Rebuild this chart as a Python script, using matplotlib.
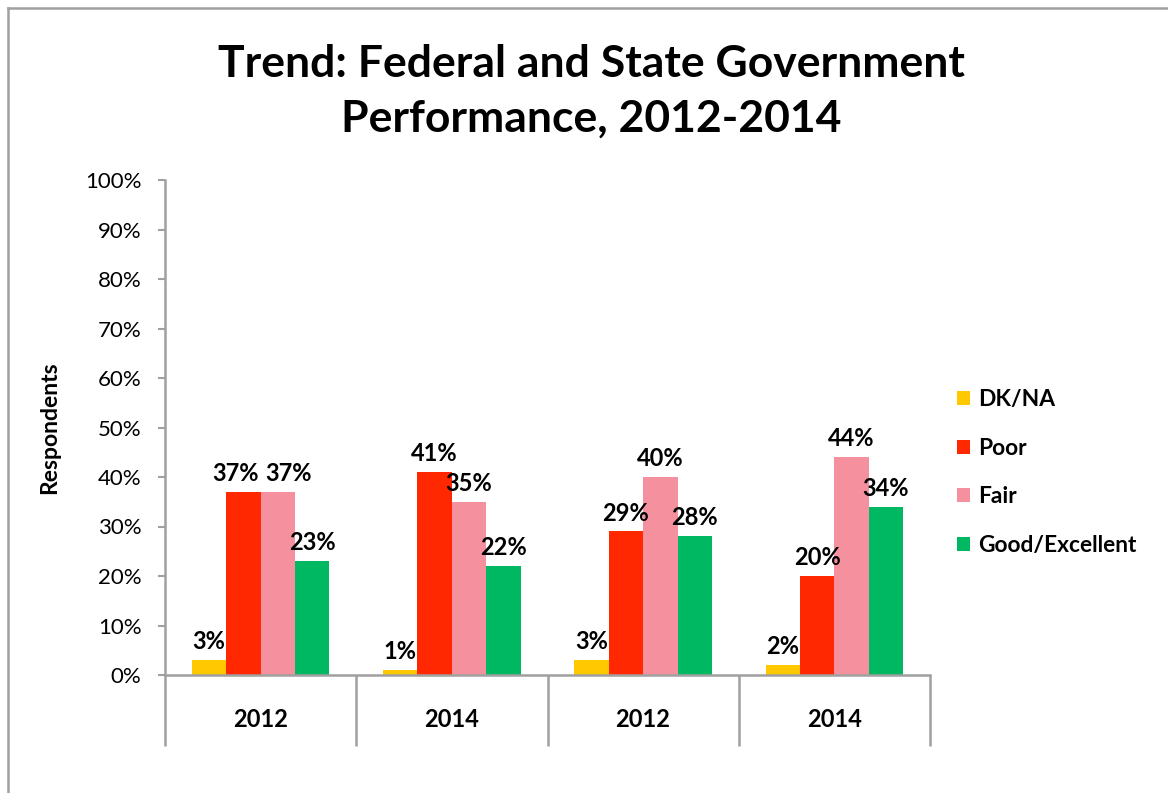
import matplotlib
matplotlib.use("Agg")
import matplotlib.pyplot as plt
from matplotlib.patches import Patch
from matplotlib.lines import Line2D
import numpy as np

plt.rcParams['font.family'] = ['Lato', 'DejaVu Sans']

groups = ["2012", "2014", "2012", "2014"]
series = ["DK/NA", "Poor", "Fair", "Good/Excellent"]
dk_na = [3, 1, 3, 2]
poor = [37, 41, 29, 20]
fair = [37, 35, 40, 44]
good = [23, 22, 28, 34]
values = [dk_na, poor, fair, good]
colors = ["#FFC800", "#FF2800", "#F5919F", "#00B862"]
yticks = list(range(0, 101, 10))

W, H = 1168, 793
fig = plt.figure(figsize=(W / 100, H / 100), dpi=100)
gray = "#A0A0A0"

# figure border (left/top visible)
fig.add_artist(Line2D([7.5 / W, 7.5 / W], [1 - 7.5 / H, 0], transform=fig.transFigure,
                      color=gray, lw=1.8))
fig.add_artist(Line2D([7.5 / W, 1], [1 - 7.5 / H, 1 - 7.5 / H], transform=fig.transFigure,
                      color=gray, lw=1.8))

ax = fig.add_axes([165 / W, 1 - 675 / H, (930 - 165) / W, (675 - 180) / H])

x = np.arange(len(groups))
bw = 0.18
n = len(series)
for i, (s, vals, c) in enumerate(zip(series, values, colors)):
    pos = x + (i - 1.5) * bw
    ax.bar(pos, vals, width=bw, color=c, label=s, zorder=2)
    for g, (px, v) in enumerate(zip(pos, vals)):
        # nudge labels apart where neighbouring bars have (almost) equal height
        dx = 0
        if i + 1 < n and abs(values[i + 1][g] - v) <= 2:
            dx -= 6
        if i - 1 >= 0 and abs(values[i - 1][g] - v) <= 2:
            dx += 8
        ax.annotate(f"{v}%", xy=(px, v), xytext=(dx, 5), textcoords="offset points",
                    ha="center", va="bottom", fontsize=17, fontweight="bold",
                    color="black")

ax.set_xlim(-0.5, len(groups) - 0.5)
ax.set_ylim(0, 100)
ax.set_yticks(yticks)
ax.set_yticklabels([f"{t}%" for t in yticks], fontsize=16)
ax.tick_params(axis="y", direction="out", length=5, width=1.5, color=gray, pad=12)

ax.set_xticks(np.arange(-0.5, len(groups), 1.0))
ax.set_xticklabels([])
ax.tick_params(axis="x", which="major", direction="out", length=51, width=1.8, color=gray)
ax.set_xticks(x, minor=True)
ax.set_xticklabels(groups, minor=True, fontsize=17, fontweight="bold")
ax.tick_params(axis="x", which="minor", length=0, pad=24)

for sp in ["top", "right"]:
    ax.spines[sp].set_visible(False)
for sp in ["left", "bottom"]:
    ax.spines[sp].set_color(gray)
    ax.spines[sp].set_linewidth(1.8)

ax.set_ylabel("Respondents", fontsize=16.5, fontweight="bold", labelpad=18)

fig.text(591 / W, 1 - 91 / H, "Trend: Federal and State Government\nPerformance, 2012-2014",
         ha="center", va="center", fontsize=32, fontweight="bold", linespacing=1.45)

handles = [Patch(facecolor=c, label=s) for c, s in zip(colors, series)]
fig.legend(handles=handles, loc="upper left", bbox_to_anchor=(957 / W, 1 - 389 / H),
           frameon=False, prop={"weight": "bold", "size": 16.4},
           handlelength=0.57, handleheight=0.57, handletextpad=0.35, labelspacing=1.21,
           borderaxespad=0, borderpad=0)

fig.savefig("out.png", dpi=100)
